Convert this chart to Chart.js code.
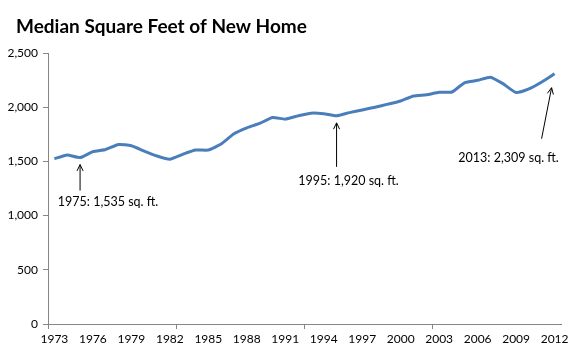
<!DOCTYPE html>
<html>
<head>
<meta charset="utf-8">
<script src="https://cdn.jsdelivr.net/npm/chart.js@4.4.0/dist/chart.umd.min.js"></script>
<style>
html,body{margin:0;padding:0;background:#fff;}
#wrap{position:relative;width:580px;height:355px;}
</style>
</head>
<body>
<div id="wrap"><canvas id="c" width="580" height="355"></canvas></div>
<script>
// ---- data ----
const titleText = 'Median Square Feet of New Home';
const years = ['1973','1974','1975','1976','1977','1978','1979','1980','1981','1982',
  '1983','1984','1985','1986','1987','1988','1989','1990','1991','1992',
  '1993','1994','1995','1996','1997','1998','1999','2000','2001','2002',
  '2003','2004','2005','2006','2007','2008','2009','2010','2011','2012'];
const sqft = [1525,1560,1535,1590,1610,1655,1645,1595,1550,1520,
  1565,1605,1605,1660,1755,1810,1850,1905,1890,1920,
  1945,1940,1920,1950,1975,2000,2028,2057,2103,2114,
  2137,2140,2227,2248,2277,2215,2135,2169,2233,2309];
const yTicks = [0,500,1000,1500,2000,2500];
const annoYears = ['1975','1995','2012'];
const annoTexts = ['1975: 1,535 sq. ft.','1995: 1,920 sq. ft.','2013: 2,309 sq. ft.'];

// ---- styles (pixel offsets relative to the annotated point) ----
const annoStyle = [
  {tip:[0,7],  tail:[0,33],   text:[28,44]},
  {tip:[0,7],  tail:[0,51],   text:[12,65]},
  {tip:[-3,14],tail:[-13,65], text:[-46,84]}
];
const axisGrey = '#868686';
const lineBlue = '#4a7ebb';
const uiFont = 'Lato, "Open Sans", "Liberation Sans", sans-serif';

const annotatePlugin = {
  id: 'annotate',
  afterDraw(chart) {
    const ctx = chart.ctx;
    const xs = chart.scales.x, ys = chart.scales.y;
    // title
    ctx.save();
    ctx.fillStyle = '#000';
    ctx.font = 'bold 19px ' + uiFont;
    ctx.textAlign = 'left';
    ctx.textBaseline = 'alphabetic';
    ctx.fillText(titleText, 16, 33);
    ctx.restore();
    annoYears.forEach((yr, i) => {
      const idx = years.indexOf(yr);
      const px = xs.getPixelForValue(idx);
      const py = ys.getPixelForValue(sqft[idx]);
      const st = annoStyle[i];
      const tx = px + st.tip[0], ty = py + st.tip[1];
      const bx = px + st.tail[0], by = py + st.tail[1];
      ctx.save();
      ctx.strokeStyle = '#000';
      ctx.lineWidth = 1;
      ctx.beginPath();
      ctx.moveTo(bx, by); ctx.lineTo(tx, ty);
      const ang = Math.atan2(ty - by, tx - bx);
      const hl = 7, hw = 0.45;
      ctx.moveTo(tx - hl*Math.cos(ang - hw), ty - hl*Math.sin(ang - hw));
      ctx.lineTo(tx, ty);
      ctx.lineTo(tx - hl*Math.cos(ang + hw), ty - hl*Math.sin(ang + hw));
      ctx.stroke();
      ctx.fillStyle = '#000';
      ctx.font = '12.5px ' + uiFont;
      ctx.textAlign = 'center';
      ctx.textBaseline = 'middle';
      ctx.fillText(annoTexts[i], px + st.text[0], py + st.text[1]);
      ctx.restore();
    });
  }
};

new Chart(document.getElementById('c'), {
  type: 'line',
  data: {
    labels: years,
    datasets: [{
      data: sqft,
      borderColor: lineBlue,
      borderWidth: 3,
      pointRadius: 0,
      tension: 0.15,
      fill: false
    }]
  },
  options: {
    responsive: false,
    animation: false,
    layout: {padding: {top: 53, right: 19, bottom: 0, left: 0}},
    plugins: {legend: {display: false}, tooltip: {enabled: false}, title: {display: false}},
    scales: {
      x: {
        type: 'category',
        offset: true,
        afterFit(s) { s.height = 31; },
        border: {color: axisGrey, width: 1},
        grid: {
          offset: true,
          drawOnChartArea: false,
          tickLength: 5,
          color: (c) => (c.index % 10 === 0 ? axisGrey : 'rgba(0,0,0,0)'),
          tickColor: (c) => (c.index % 10 === 0 ? axisGrey : 'rgba(0,0,0,0)')
        },
        ticks: {
          autoSkip: false,
          maxRotation: 0,
          minRotation: 0,
          padding: 3,
          color: '#000',
          font: {family: uiFont, size: 12},
          callback: function(v, i) { return i % 3 === 0 ? years[i] : ''; }
        }
      },
      y: {
        min: 0,
        max: 2500,
        afterFit(s) { s.width = 48; },
        afterBuildTicks(s) { s.ticks = yTicks.map(v => ({value: v})); },
        border: {color: axisGrey, width: 1},
        grid: {drawOnChartArea: false, tickLength: 5, color: axisGrey, tickColor: axisGrey},
        ticks: {
          padding: 5,
          color: '#000',
          font: {family: uiFont, size: 12},
          callback: (v) => v.toLocaleString('en-US')
        }
      }
    }
  },
  plugins: [annotatePlugin]
});
</script>
</body>
</html>
